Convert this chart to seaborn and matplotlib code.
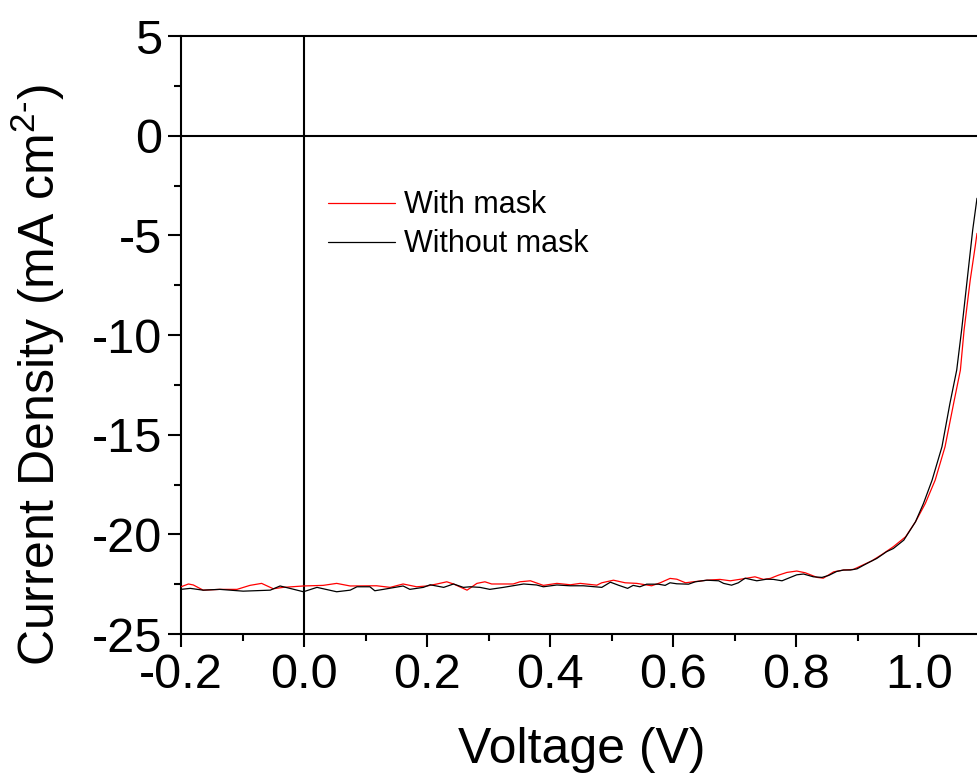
import matplotlib
matplotlib.use("Agg")
import matplotlib.pyplot as plt
from matplotlib.ticker import MultipleLocator
import numpy as np
import pandas as pd
import seaborn as sns

# J-V sweep, cell measured with an aperture mask
volt_mask = [-0.200, -0.188, -0.180, -0.164, -0.137, -0.109, -0.088, -0.069, -0.050, -0.034,
             -0.001, 0.031, 0.053, 0.075, 0.118, 0.140, 0.161, 0.183, 0.200, 0.216,
             0.232, 0.243, 0.265, 0.281, 0.294, 0.305, 0.324, 0.340, 0.351, 0.368,
             0.389, 0.411, 0.433, 0.449, 0.476, 0.484, 0.503, 0.522, 0.541, 0.565,
             0.579, 0.595, 0.606, 0.620, 0.633, 0.655, 0.676, 0.693, 0.714, 0.733,
             0.747, 0.758, 0.771, 0.785, 0.801, 0.815, 0.834, 0.844, 0.861, 0.877,
             0.893, 0.909, 0.923, 0.940, 0.958, 0.978, 0.994, 1.010, 1.026, 1.042,
             1.056, 1.067, 1.073, 1.083, 1.091, 1.094]
jsc_mask = [-22.63, -22.49, -22.54, -22.80, -22.76, -22.76, -22.56, -22.46, -22.73, -22.66,
            -22.59, -22.56, -22.46, -22.59, -22.58, -22.66, -22.49, -22.63, -22.59, -22.49,
            -22.38, -22.49, -22.80, -22.46, -22.38, -22.49, -22.49, -22.49, -22.38, -22.33,
            -22.56, -22.46, -22.53, -22.46, -22.55, -22.43, -22.30, -22.43, -22.46, -22.58,
            -22.43, -22.21, -22.25, -22.43, -22.38, -22.30, -22.26, -22.33, -22.23, -22.13,
            -22.26, -22.21, -22.05, -21.91, -21.84, -21.93, -22.16, -22.20, -21.88, -21.79,
            -21.76, -21.53, -21.33, -21.00, -20.62, -20.12, -19.37, -18.45, -17.28, -15.61,
            -13.43, -11.76, -9.75, -7.24, -5.57, -4.90]

# J-V sweep, same cell without the mask
volt_nomask = [-0.200, -0.185, -0.164, -0.137, -0.099, -0.055, -0.039, -0.023, -0.001, 0.021,
               0.053, 0.075, 0.086, 0.107, 0.115, 0.129, 0.161, 0.172, 0.194, 0.205,
               0.227, 0.243, 0.259, 0.270, 0.286, 0.302, 0.324, 0.357, 0.378, 0.389,
               0.411, 0.432, 0.454, 0.484, 0.498, 0.511, 0.526, 0.535, 0.546, 0.557,
               0.576, 0.587, 0.595, 0.606, 0.625, 0.636, 0.655, 0.674, 0.682, 0.695,
               0.706, 0.717, 0.736, 0.752, 0.763, 0.777, 0.801, 0.812, 0.828, 0.842,
               0.853, 0.866, 0.877, 0.888, 0.899, 0.909, 0.920, 0.931, 0.947, 0.958,
               0.975, 0.994, 1.007, 1.021, 1.037, 1.050, 1.061, 1.069, 1.078, 1.087,
               1.094]
jsc_nomask = [-22.76, -22.71, -22.80, -22.76, -22.85, -22.80, -22.59, -22.71, -22.88, -22.66,
              -22.88, -22.80, -22.63, -22.63, -22.83, -22.76, -22.59, -22.76, -22.66, -22.53,
              -22.66, -22.49, -22.66, -22.63, -22.66, -22.76, -22.66, -22.49, -22.54, -22.63,
              -22.54, -22.58, -22.58, -22.66, -22.40, -22.55, -22.71, -22.56, -22.63, -22.50,
              -22.50, -22.56, -22.43, -22.48, -22.50, -22.38, -22.30, -22.33, -22.46, -22.55,
              -22.43, -22.20, -22.33, -22.25, -22.26, -22.33, -22.03, -21.99, -22.13, -22.16,
              -22.06, -21.86, -21.79, -21.79, -21.73, -21.56, -21.38, -21.21, -20.87, -20.71,
              -20.29, -19.37, -18.45, -17.28, -15.61, -13.43, -11.76, -9.75, -7.24, -4.73,
              -3.14]

series_names = ["With mask", "Without mask"]
series_colors = ["#ff0000", "#000000"]

x_ticks = [-0.2, 0.0, 0.2, 0.4, 0.6, 0.8, 1.0]
y_ticks = [5, 0, -5, -10, -15, -20, -25]

df = pd.concat([
    pd.DataFrame({"Voltage": volt_mask, "J": jsc_mask, "Sample": series_names[0]}),
    pd.DataFrame({"Voltage": volt_nomask, "J": jsc_nomask, "Sample": series_names[1]}),
], ignore_index=True)

sns.set_style("ticks")
plt.rcParams["font.family"] = ["Liberation Sans", "DejaVu Sans"]
plt.rcParams["mathtext.fontset"] = "custom"
plt.rcParams["mathtext.rm"] = "Liberation Sans"
plt.rcParams["text.color"] = "black"
plt.rcParams["axes.labelcolor"] = "black"

fig = plt.figure(figsize=(9.77, 7.73), dpi=100)
ax = fig.add_axes([0.1853, 0.1798, 0.8147, 0.7736])

ax.axhline(0, color="black", lw=1.5, zorder=1)
ax.axvline(0, color="black", lw=1.5, zorder=1)

sns.lineplot(data=df, x="Voltage", y="J", hue="Sample", hue_order=series_names,
             palette=dict(zip(series_names, series_colors)), linewidth=0.9,
             sort=True, estimator=None, ax=ax, zorder=3)

ax.set_xlim(-0.2, 1.094)
ax.set_ylim(-25, 5)
ax.set_xticks(x_ticks)
ax.set_xticklabels([f"{v:.1f}" for v in x_ticks])
ax.set_yticks(y_ticks)
ax.set_yticklabels([str(v) for v in y_ticks])
ax.xaxis.set_minor_locator(MultipleLocator(0.1))
ax.yaxis.set_minor_locator(MultipleLocator(2.5))

ax.tick_params(which="major", direction="out", length=9.5, width=1.5,
               labelsize=35, pad=4, color="black", labelcolor="black")
ax.tick_params(which="minor", direction="out", length=4.8, width=1.5, color="black")
ax.tick_params(top=False, right=False, which="both")

for side in ["left", "bottom", "top"]:
    ax.spines[side].set_linewidth(1.5)
    ax.spines[side].set_color("black")
ax.spines["right"].set_visible(False)

ax.set_xlabel("Voltage (V)", fontsize=36, color="black")
ax.set_ylabel(r"Current Density (mA cm$^{\mathrm{2}\text{-}}$)", fontsize=36, color="black")
ax.xaxis.set_label_coords(0.504, -0.155)
ax.yaxis.set_label_coords(-0.143, 0.433)

leg = ax.legend(title=None, frameon=False, fontsize=22, loc="upper left",
                bbox_to_anchor=(0.1845, 0.742), borderaxespad=0, borderpad=0,
                handlelength=2.2, handletextpad=0.3, labelspacing=0.3)
for t in leg.get_texts():
    t.set_color("black")

fig.savefig("out.png", dpi=100)
